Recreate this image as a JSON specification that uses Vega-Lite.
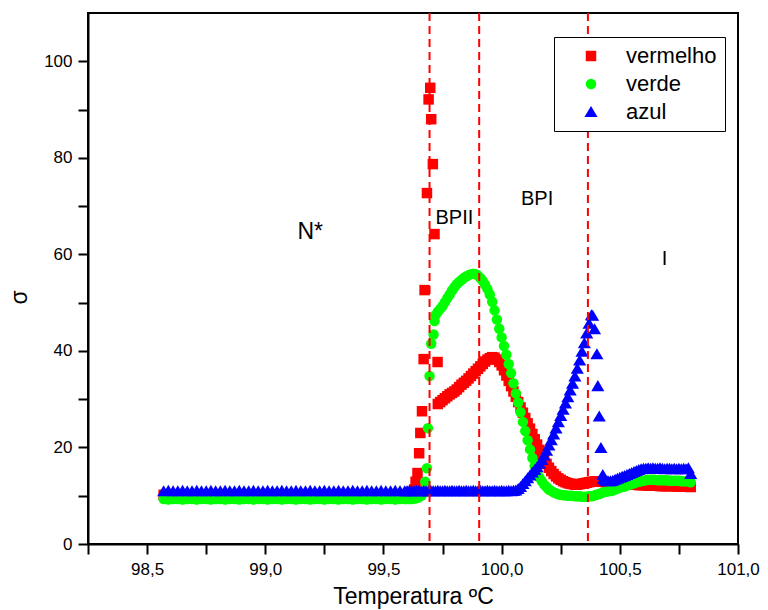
{
 "$schema": "https://vega.github.io/schema/vega-lite/v6.json",
 "width": 650,
 "height": 531,
 "autosize": "none",
 "padding": {"left": 88, "top": 13, "right": 30, "bottom": 66},
 "background": "white",
 "config": {
  "view": {"stroke": "black", "strokeWidth": 2},
  "font": "Liberation Sans",
  "axis": {"grid": false, "domainColor": "black", "domainWidth": 2, "tickColor": "black", "tickWidth": 2, "tickSize": 10, "labelColor": "black", "titleColor": "black", "labelFont": "Liberation Sans", "titleFont": "Liberation Sans", "labelFontSize": 17, "titleFontSize": 23, "titleFontWeight": "normal"},
  "legend": {"title": null, "strokeColor": "black", "strokeWidth": 1, "padding": 8, "fillColor": "white", "labelFontSize": 22, "labelFont": "Liberation Sans", "labelColor": "black", "symbolSize": 110, "symbolOffset": 18, "labelOffset": 24, "rowPadding": 6, "symbolStrokeWidth": 0}
 },
 "datasets": {
  "main": [
   {"t":98.57,"vermelho":10.2,"verde":9.3,"azul":10.9},
   {"t":98.59,"vermelho":10.2,"verde":9.2,"azul":11.0},
   {"t":98.61,"vermelho":10.2,"verde":9.3,"azul":10.9},
   {"t":98.63,"vermelho":10.2,"verde":9.3,"azul":10.9},
   {"t":98.65,"vermelho":10.2,"verde":9.2,"azul":11.0},
   {"t":98.67,"vermelho":10.2,"verde":9.3,"azul":10.9},
   {"t":98.69,"vermelho":10.2,"verde":9.3,"azul":10.9},
   {"t":98.71,"vermelho":10.2,"verde":9.2,"azul":11.0},
   {"t":98.73,"vermelho":10.2,"verde":9.3,"azul":10.9},
   {"t":98.75,"vermelho":10.2,"verde":9.3,"azul":10.9},
   {"t":98.77,"vermelho":10.2,"verde":9.2,"azul":11.0},
   {"t":98.79,"vermelho":10.2,"verde":9.3,"azul":10.9},
   {"t":98.81,"vermelho":10.2,"verde":9.3,"azul":10.9},
   {"t":98.83,"vermelho":10.2,"verde":9.2,"azul":11.0},
   {"t":98.85,"vermelho":10.2,"verde":9.3,"azul":10.9},
   {"t":98.87,"vermelho":10.2,"verde":9.3,"azul":10.9},
   {"t":98.89,"vermelho":10.2,"verde":9.2,"azul":11.0},
   {"t":98.91,"vermelho":10.2,"verde":9.3,"azul":10.9},
   {"t":98.93,"vermelho":10.2,"verde":9.3,"azul":10.9},
   {"t":98.95,"vermelho":10.2,"verde":9.2,"azul":11.0},
   {"t":98.97,"vermelho":10.2,"verde":9.3,"azul":10.9},
   {"t":98.99,"vermelho":10.2,"verde":9.3,"azul":10.9},
   {"t":99.01,"vermelho":10.2,"verde":9.2,"azul":11.0},
   {"t":99.03,"vermelho":10.2,"verde":9.3,"azul":10.9},
   {"t":99.05,"vermelho":10.2,"verde":9.3,"azul":10.9},
   {"t":99.07,"vermelho":10.2,"verde":9.2,"azul":11.0},
   {"t":99.09,"vermelho":10.2,"verde":9.3,"azul":10.9},
   {"t":99.11,"vermelho":10.2,"verde":9.3,"azul":10.9},
   {"t":99.13,"vermelho":10.2,"verde":9.2,"azul":11.0},
   {"t":99.15,"vermelho":10.2,"verde":9.3,"azul":10.9},
   {"t":99.17,"vermelho":10.2,"verde":9.3,"azul":10.9},
   {"t":99.19,"vermelho":10.2,"verde":9.2,"azul":11.0},
   {"t":99.21,"vermelho":10.2,"verde":9.3,"azul":10.9},
   {"t":99.23,"vermelho":10.2,"verde":9.3,"azul":10.9},
   {"t":99.25,"vermelho":10.2,"verde":9.2,"azul":11.0},
   {"t":99.27,"vermelho":10.2,"verde":9.3,"azul":10.9},
   {"t":99.29,"vermelho":10.2,"verde":9.3,"azul":10.9},
   {"t":99.31,"vermelho":10.2,"verde":9.2,"azul":11.0},
   {"t":99.33,"vermelho":10.2,"verde":9.3,"azul":10.9},
   {"t":99.35,"vermelho":10.2,"verde":9.3,"azul":10.9},
   {"t":99.37,"vermelho":10.2,"verde":9.2,"azul":11.0},
   {"t":99.39,"vermelho":10.2,"verde":9.3,"azul":10.9},
   {"t":99.41,"vermelho":10.2,"verde":9.3,"azul":10.9},
   {"t":99.43,"vermelho":10.2,"verde":9.2,"azul":11.0},
   {"t":99.45,"vermelho":10.2,"verde":9.3,"azul":10.9},
   {"t":99.47,"vermelho":10.2,"verde":9.3,"azul":10.9},
   {"t":99.49,"vermelho":10.2,"verde":9.2,"azul":11.0},
   {"t":99.51,"vermelho":10.2,"verde":9.3,"azul":10.9},
   {"t":99.53,"vermelho":10.2,"verde":9.3,"azul":10.9},
   {"t":99.55,"vermelho":10.2,"verde":9.2,"azul":11.0},
   {"t":99.57,"vermelho":10.2,"verde":9.3,"azul":10.9},
   {"t":99.59,"vermelho":10.2,"verde":9.3,"azul":10.9},
   {"t":99.60,"vermelho":10.3,"verde":9.3,"azul":10.9},
   {"t":99.61,"vermelho":10.5,"verde":9.3,"azul":11.0},
   {"t":99.62,"vermelho":10.8,"verde":9.3,"azul":10.9},
   {"t":99.63,"vermelho":11.3,"verde":9.4,"azul":10.9},
   {"t":99.64,"vermelho":null,"verde":9.5,"azul":11.0},
   {"t":99.65,"vermelho":null,"verde":9.7,"azul":10.9},
   {"t":99.66,"vermelho":null,"verde":10.0,"azul":10.9},
   {"t":99.67,"vermelho":null,"verde":10.6,"azul":11.0},
   {"t":99.68,"vermelho":null,"verde":null,"azul":10.9},
   {"t":99.69,"vermelho":null,"verde":null,"azul":10.9},
   {"t":99.70,"vermelho":null,"verde":null,"azul":11.0},
   {"t":99.71,"vermelho":null,"verde":null,"azul":10.9},
   {"t":99.72,"vermelho":null,"verde":47.4,"azul":10.9},
   {"t":99.73,"vermelho":29.0,"verde":48.1,"azul":11.0},
   {"t":99.74,"vermelho":29.4,"verde":48.7,"azul":10.9},
   {"t":99.75,"vermelho":29.8,"verde":49.3,"azul":10.9},
   {"t":99.76,"vermelho":30.2,"verde":50.1,"azul":11.0},
   {"t":99.77,"vermelho":30.6,"verde":50.9,"azul":10.9},
   {"t":99.78,"vermelho":31.0,"verde":51.7,"azul":10.9},
   {"t":99.79,"vermelho":31.3,"verde":52.5,"azul":11.0},
   {"t":99.80,"vermelho":31.6,"verde":53.2,"azul":10.9},
   {"t":99.81,"vermelho":32.0,"verde":53.8,"azul":10.9},
   {"t":99.82,"vermelho":32.5,"verde":54.3,"azul":11.0},
   {"t":99.83,"vermelho":33.0,"verde":54.7,"azul":10.9},
   {"t":99.84,"vermelho":33.4,"verde":55.1,"azul":10.9},
   {"t":99.85,"vermelho":33.8,"verde":55.4,"azul":11.0},
   {"t":99.86,"vermelho":34.3,"verde":55.7,"azul":10.9},
   {"t":99.87,"vermelho":34.8,"verde":55.9,"azul":10.9},
   {"t":99.88,"vermelho":35.3,"verde":56.0,"azul":11.0},
   {"t":99.89,"vermelho":35.8,"verde":55.9,"azul":10.9},
   {"t":99.90,"vermelho":36.3,"verde":55.6,"azul":10.9},
   {"t":99.91,"vermelho":36.8,"verde":55.1,"azul":11.0},
   {"t":99.92,"vermelho":37.3,"verde":54.5,"azul":10.9},
   {"t":99.93,"vermelho":37.8,"verde":53.7,"azul":10.9},
   {"t":99.94,"vermelho":38.2,"verde":52.8,"azul":11.0},
   {"t":99.95,"vermelho":38.5,"verde":51.7,"azul":10.9},
   {"t":99.96,"vermelho":38.7,"verde":50.2,"azul":10.9},
   {"t":99.97,"vermelho":38.6,"verde":48.4,"azul":11.0},
   {"t":99.98,"vermelho":38.2,"verde":46.5,"azul":10.9},
   {"t":99.99,"vermelho":37.7,"verde":44.6,"azul":10.9},
   {"t":100.00,"vermelho":37.0,"verde":42.8,"azul":11.0},
   {"t":100.01,"vermelho":36.0,"verde":41.0,"azul":10.9},
   {"t":100.02,"vermelho":34.9,"verde":39.2,"azul":10.9},
   {"t":100.03,"vermelho":33.8,"verde":37.3,"azul":11.0},
   {"t":100.04,"vermelho":32.7,"verde":35.4,"azul":10.9},
   {"t":100.05,"vermelho":31.6,"verde":33.3,"azul":11.0},
   {"t":100.06,"vermelho":30.5,"verde":31.2,"azul":11.1},
   {"t":100.07,"vermelho":29.4,"verde":29.3,"azul":11.4},
   {"t":100.08,"vermelho":28.3,"verde":27.3,"azul":11.8},
   {"t":100.09,"vermelho":27.2,"verde":25.3,"azul":12.4},
   {"t":100.10,"vermelho":26.1,"verde":23.4,"azul":13.0},
   {"t":100.11,"vermelho":25.0,"verde":21.5,"azul":13.6},
   {"t":100.12,"vermelho":23.9,"verde":19.6,"azul":14.2},
   {"t":100.13,"vermelho":22.8,"verde":17.8,"azul":14.8},
   {"t":100.14,"vermelho":21.7,"verde":16.2,"azul":15.3},
   {"t":100.15,"vermelho":20.6,"verde":14.9,"azul":15.9},
   {"t":100.16,"vermelho":19.5,"verde":13.8,"azul":16.6},
   {"t":100.17,"vermelho":18.5,"verde":13.0,"azul":17.4},
   {"t":100.18,"vermelho":17.5,"verde":12.3,"azul":18.3},
   {"t":100.19,"vermelho":16.6,"verde":11.8,"azul":19.3},
   {"t":100.20,"vermelho":15.8,"verde":11.3,"azul":20.4},
   {"t":100.21,"vermelho":15.1,"verde":11.0,"azul":21.5},
   {"t":100.22,"vermelho":14.5,"verde":10.7,"azul":22.7},
   {"t":100.23,"vermelho":14.0,"verde":10.5,"azul":23.9},
   {"t":100.24,"vermelho":13.6,"verde":10.3,"azul":25.2},
   {"t":100.25,"vermelho":13.3,"verde":10.2,"azul":26.5},
   {"t":100.26,"vermelho":13.0,"verde":10.1,"azul":27.8},
   {"t":100.27,"vermelho":12.8,"verde":10.1,"azul":29.1},
   {"t":100.28,"vermelho":12.6,"verde":10.0,"azul":30.4},
   {"t":100.29,"vermelho":12.5,"verde":10.0,"azul":31.8},
   {"t":100.30,"vermelho":12.4,"verde":10.0,"azul":33.2},
   {"t":100.31,"vermelho":12.3,"verde":9.9,"azul":34.7},
   {"t":100.32,"vermelho":12.3,"verde":9.9,"azul":36.3},
   {"t":100.33,"vermelho":12.4,"verde":9.9,"azul":38.0},
   {"t":100.34,"vermelho":12.5,"verde":9.8,"azul":39.8},
   {"t":100.35,"vermelho":12.6,"verde":9.8,"azul":41.6},
   {"t":100.36,"vermelho":12.7,"verde":9.8,"azul":43.6},
   {"t":100.37,"vermelho":12.8,"verde":9.9,"azul":45.6},
   {"t":100.38,"vermelho":12.9,"verde":9.9,"azul":47.4},
   {"t":100.39,"vermelho":12.9,"verde":10.0,"azul":null},
   {"t":100.40,"vermelho":13.0,"verde":10.2,"azul":null},
   {"t":100.41,"vermelho":13.0,"verde":10.3,"azul":null},
   {"t":100.42,"vermelho":13.0,"verde":10.5,"azul":null},
   {"t":100.43,"vermelho":12.9,"verde":10.7,"azul":13.4},
   {"t":100.44,"vermelho":12.8,"verde":10.8,"azul":13.1},
   {"t":100.45,"vermelho":12.7,"verde":10.9,"azul":13.0},
   {"t":100.46,"vermelho":12.6,"verde":11.0,"azul":13.0},
   {"t":100.47,"vermelho":12.5,"verde":11.1,"azul":13.1},
   {"t":100.48,"vermelho":12.5,"verde":11.3,"azul":13.3},
   {"t":100.49,"vermelho":12.4,"verde":11.5,"azul":13.5},
   {"t":100.50,"vermelho":12.4,"verde":11.7,"azul":13.7},
   {"t":100.51,"vermelho":12.4,"verde":11.8,"azul":13.9},
   {"t":100.52,"vermelho":12.4,"verde":11.9,"azul":14.1},
   {"t":100.53,"vermelho":12.3,"verde":12.1,"azul":14.3},
   {"t":100.54,"vermelho":12.3,"verde":12.3,"azul":14.5},
   {"t":100.55,"vermelho":12.3,"verde":12.4,"azul":14.7},
   {"t":100.56,"vermelho":12.3,"verde":12.6,"azul":14.9},
   {"t":100.57,"vermelho":12.3,"verde":12.8,"azul":15.1},
   {"t":100.58,"vermelho":12.2,"verde":12.9,"azul":15.3},
   {"t":100.59,"vermelho":12.2,"verde":13.0,"azul":15.5},
   {"t":100.60,"vermelho":12.2,"verde":13.1,"azul":15.6},
   {"t":100.61,"vermelho":12.2,"verde":13.2,"azul":15.6},
   {"t":100.62,"vermelho":12.1,"verde":13.3,"azul":15.7},
   {"t":100.63,"vermelho":12.1,"verde":13.3,"azul":15.6},
   {"t":100.64,"vermelho":12.1,"verde":13.3,"azul":15.7},
   {"t":100.65,"vermelho":12.1,"verde":13.3,"azul":15.6},
   {"t":100.66,"vermelho":12.1,"verde":13.2,"azul":15.6},
   {"t":100.67,"vermelho":12.0,"verde":13.2,"azul":15.7},
   {"t":100.68,"vermelho":12.0,"verde":13.2,"azul":15.6},
   {"t":100.69,"vermelho":12.0,"verde":13.2,"azul":15.5},
   {"t":100.70,"vermelho":12.0,"verde":13.2,"azul":15.6},
   {"t":100.71,"vermelho":12.0,"verde":13.1,"azul":15.6},
   {"t":100.72,"vermelho":12.0,"verde":13.1,"azul":15.5},
   {"t":100.73,"vermelho":12.0,"verde":13.1,"azul":15.6},
   {"t":100.74,"vermelho":11.9,"verde":13.1,"azul":15.5},
   {"t":100.75,"vermelho":11.9,"verde":13.1,"azul":15.6},
   {"t":100.76,"vermelho":11.9,"verde":13.0,"azul":15.5},
   {"t":100.77,"vermelho":11.9,"verde":13.0,"azul":15.6},
   {"t":100.78,"vermelho":11.9,"verde":13.0,"azul":15.5},
   {"t":100.79,"vermelho":11.9,"verde":13.0,"azul":15.7},
   {"t":100.80,"vermelho":11.8,"verde":12.8,"azul":14.5},
   {"t":99.636,"vermelho":12.9,"verde":null,"azul":null},
   {"t":99.644,"vermelho":14.7,"verde":null,"azul":null},
   {"t":99.651,"vermelho":18.8,"verde":null,"azul":null},
   {"t":99.656,"vermelho":23.0,"verde":null,"azul":null},
   {"t":99.663,"vermelho":27.5,"verde":null,"azul":null},
   {"t":99.670,"vermelho":38.3,"verde":null,"azul":null},
   {"t":99.674,"vermelho":52.6,"verde":null,"azul":null},
   {"t":99.684,"vermelho":72.7,"verde":null,"azul":null},
   {"t":99.691,"vermelho":92.1,"verde":null,"azul":null},
   {"t":99.698,"vermelho":94.5,"verde":null,"azul":null},
   {"t":99.702,"vermelho":88.0,"verde":null,"azul":null},
   {"t":99.709,"vermelho":78.7,"verde":null,"azul":null},
   {"t":99.716,"vermelho":64.2,"verde":null,"azul":null},
   {"t":99.729,"vermelho":37.7,"verde":null,"azul":null},
   {"t":99.677,"vermelho":null,"verde":12.9,"azul":null},
   {"t":99.684,"vermelho":null,"verde":15.7,"azul":null},
   {"t":99.688,"vermelho":null,"verde":24.0,"azul":null},
   {"t":99.695,"vermelho":null,"verde":34.8,"azul":null},
   {"t":99.702,"vermelho":null,"verde":41.5,"azul":null},
   {"t":99.712,"vermelho":null,"verde":43.4,"azul":null},
   {"t":99.716,"vermelho":null,"verde":46.2,"azul":null},
   {"t":100.385,"vermelho":null,"verde":null,"azul":47.3},
   {"t":100.393,"vermelho":null,"verde":null,"azul":44.5},
   {"t":100.403,"vermelho":null,"verde":null,"azul":39.3},
   {"t":100.407,"vermelho":null,"verde":null,"azul":32.7},
   {"t":100.413,"vermelho":null,"verde":null,"azul":26.4},
   {"t":100.420,"vermelho":null,"verde":null,"azul":19.9},
   {"t":100.428,"vermelho":null,"verde":null,"azul":14.3}
  ],
  "fases": [{"t":99.695},{"t":99.905},{"t":100.365}],
  "rotulos": [
   {"t":99.80,"sigma":67.5,"label":"BPII"},
   {"t":100.15,"sigma":71.4,"label":"BPI"},
   {"t":100.689,"sigma":59.0,"label":"I"}
  ],
  "rotuloN": [{"t":99.19,"sigma":64.6,"label":"N*"}]
 },
 "layer": [
  {
   "data": {"name": "main"},
   "transform": [
    {"fold": ["vermelho", "verde", "azul"], "as": ["serie", "sigma"]},
    {"filter": "datum.sigma != null"}
   ],
   "mark": {"type": "point", "filled": true, "opacity": 1, "size": 110, "strokeWidth": 0},
   "encoding": {
    "x": {"field": "t", "type": "quantitative",
     "scale": {"domain": [98.25, 101.0], "nice": false, "zero": false},
     "axis": {"title": "Temperatura ºC", "values": [98.25, 98.5, 98.75, 99.0, 99.25, 99.5, 99.75, 100.0, 100.25, 100.5, 100.75, 101.0],
      "labelExpr": "(round(datum.value*100) % 50 == 0) ? replace(format(datum.value, '.1f'), '.', ',') : ''",
      "labelPadding": 7, "titleBaseline": "alphabetic", "titleY": 59, "labelFlush": false, "labelOverlap": false}},
    "y": {"field": "sigma", "type": "quantitative",
     "scale": {"domain": [0, 110], "nice": false, "zero": true},
     "axis": {"title": "σ", "values": [0, 10, 20, 30, 40, 50, 60, 70, 80, 90, 100],
      "labelExpr": "(datum.value % 20 == 0) ? datum.label : ''",
      "labelPadding": 6, "titleX": -62, "titleY": 284, "titleBaseline": "alphabetic", "titleAlign": "center", "labelFlush": false, "labelOverlap": false}},
    "color": {"field": "serie", "type": "nominal",
     "scale": {"domain": ["vermelho", "verde", "azul"], "range": ["#ff0000", "#00ff00", "#0000ff"]},
     "legend": {"orient": "none", "legendX": 466, "legendY": 24, "title": null}},
    "shape": {"field": "serie", "type": "nominal",
     "scale": {"domain": ["vermelho", "verde", "azul"], "range": ["square", "circle", "M0,-1.15L1.25,0.95L-1.25,0.95Z"]},
     "legend": {"orient": "none", "legendX": 466, "legendY": 24, "title": null}},
    "order": {"field": "serie", "sort": "descending"}
   }
  },
  {
   "data": {"name": "fases"},
   "mark": {"type": "rule", "color": "#ff0000", "strokeWidth": 2, "strokeDash": [8, 5]},
   "encoding": {"x": {"field": "t", "type": "quantitative"}}
  },
  {
   "data": {"name": "rotulos"},
   "mark": {"type": "text", "fontSize": 20, "font": "Liberation Sans", "color": "black", "align": "center", "baseline": "middle"},
   "encoding": {"x": {"field": "t", "type": "quantitative"}, "y": {"field": "sigma", "type": "quantitative"}, "text": {"field": "label"}}
  },
  {
   "data": {"name": "rotuloN"},
   "mark": {"type": "text", "fontSize": 23, "font": "Liberation Sans", "color": "black", "align": "center", "baseline": "middle"},
   "encoding": {"x": {"field": "t", "type": "quantitative"}, "y": {"field": "sigma", "type": "quantitative"}, "text": {"field": "label"}}
  }
 ]
}
